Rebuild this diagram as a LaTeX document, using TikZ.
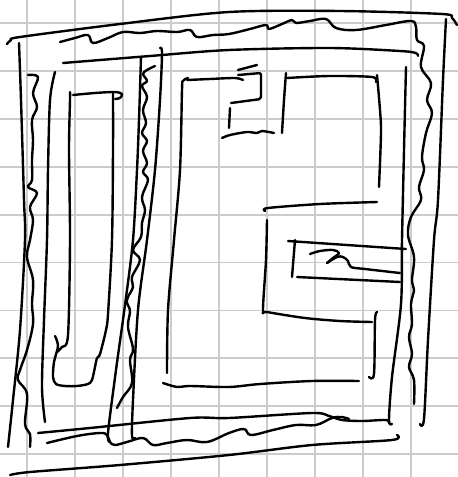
\documentclass[tikz,border=0pt]{standalone}
\begin{document}
\begin{tikzpicture}[x=1pt,y=-1pt,
  pen/.style={line width=2.4pt, line cap=round, line join=round, black},
  gridline/.style={line width=1.8pt, color=black!20}]
\fill[white] (0,0) rectangle (458,477);
\useasboundingbox (0,0) rectangle (458,477);
% grid
\foreach \k in {0,...,8} {\draw[gridline] ({27+48*\k},0) -- ({27+48*\k},477);}
\foreach \k in {0,...,9} {\draw[gridline] (0,{23+47.9*\k}) -- (458,{23+47.9*\k});}
% outer top
\draw[pen] plot[smooth,tension=0.5] coordinates {(7,44) (11,40) (20,37) (120,24) (229,12) (340,11) (442,14) (452,18) (457,25)};
% outer right
\draw[pen] plot[smooth,tension=0.5] coordinates {(446,19) (443,80) (438,200) (434,240) (428,340) (424,419) (420,424)};
% outer left
\draw[pen] plot[smooth,tension=0.5] coordinates {(19,43) (21,100) (24,200) (25,240) (20,330) (13,400) (8,447)};
% outer bottom
\draw[pen] plot[smooth,tension=0.5] coordinates {(10,475) (30,472) (120,465) (229,455) (312,445) (392,440) (397,435)};
% wavy top + wavy right
\draw[pen] plot[smooth,tension=0.6] coordinates {(60,42) (75,38) (88,35) (93,43) (108,38) (123,32) (140,33) (157,31) (177,32) (190,30) (197,37) (213,35) (229,34) (250,29) (266,25) (269,29) (282,24) (292,20) (296,23) (310,21) (326,19) (336,28) (356,30) (386,25) (411,21) (416,27) (417,40) (424,46) (421,67) (431,83) (427,100) (432,113) (426,133) (422,157) (424,170) (419,187) (421,200) (411,217) (408,235) (414,257) (412,280) (414,290) (411,304) (412,324) (409,337) (412,354) (409,367) (414,380) (414,404)};
% third top straight
\draw[pen] plot[smooth,tension=0.5] coordinates {(63,63) (150,56) (229,50) (330,48) (400,51) (416,53) (418,56)};
% right inner straight
\draw[pen] plot[smooth,tension=0.5] coordinates {(406,67) (404,150) (402,240) (401,304) (392,377) (389,420) (392,424)};
% left wavy
\draw[pen] plot[smooth,tension=0.6] coordinates {(28,75) (38,77) (33,93) (37,107) (32,120) (33,140) (32,160) (32,180) (28,187) (37,193) (30,207) (33,220) (30,240) (27,257) (33,280) (32,304) (33,324) (27,350) (20,370) (18,380) (27,394) (25,424) (30,434) (30,447)};
% left inner straight
\draw[pen] plot[smooth,tension=0.5] coordinates {(55,72) (50,100) (48,170) (47,240) (44,320) (42,387) (45,422)};
% inner tall box
\draw[pen] plot[smooth,tension=0.5] coordinates {(70,92) (70,100) (69,150) (70,240) (68,335) (62,347) (57,352)};
\draw[pen] plot[smooth,tension=0.5] coordinates {(55,336) (58,346) (54,362) (53,377) (56,384) (65,386) (77,386) (88,384) (92,380) (95,367) (97,358) (100,354) (106,330) (108,314) (112,240) (113,150) (113,93)};
\draw[pen] plot[smooth,tension=0.5] coordinates {(73,95) (95,93) (115,92) (122,94) (120,98) (115,99)};
% line A
\draw[pen] plot[smooth,tension=0.5] coordinates {(141,57) (139,120) (137,170) (133,240) (125,305) (116,370) (108,433) (110,442)};
% wavy B
\draw[pen] plot[smooth,tension=0.6] coordinates {(155,66) (147,70) (143,74) (147,81) (142,86) (147,97) (143,110) (146,123) (142,133) (147,141) (143,151) (147,163) (143,172) (148,180) (142,197) (145,210) (142,223) (141,237) (133,250) (140,260) (132,277) (133,287) (128,297) (127,303) (130,311) (128,327) (133,349) (130,360) (132,383) (123,397) (117,408)};
% line C
\draw[pen] plot[smooth,tension=0.5] coordinates {(160,48) (162,53) (160,100) (155,170) (147,240) (138,310) (133,400) (132,436) (135,438)};
% content left line D
\draw[pen] plot[smooth,tension=0.5] coordinates {(188,78) (183,81) (182,90) (180,170) (174,240) (168,310) (167,373)};
% content top edge
\draw[pen] plot[smooth,tension=0.5] coordinates {(187,80) (210,79) (235,78) (243,80)};
% short diagonal
\draw[pen] (238,70) -- (257,65);
% small box
\draw[pen,rounded corners=2pt] (238,75) -- (261,73) -- (261,99) -- (231,103);
\draw[pen] (230,108) -- (229,128);
\draw[pen] plot[smooth,tension=0.5] coordinates {(222,138) (230,135) (247,132) (257,133) (262,131) (274,133)};
% right top box
\draw[pen] plot[smooth,tension=0.5] coordinates {(286,73) (284,100) (282,133)};
\draw[pen] plot[smooth,tension=0.5] coordinates {(287,78) (329,76) (372,77) (376,82)};
\draw[pen] plot[smooth,tension=0.5] coordinates {(377,75) (380,110) (381,133) (379,187)};
% middle box
\draw[pen] plot[smooth,tension=0.5] coordinates {(265,211) (268,208) (320,204) (377,202)};
\draw[pen] plot[smooth,tension=0.5] coordinates {(267,220) (266,260) (263,310) (267,312) (305,318) (340,321) (372,322)};
\draw[pen] plot[smooth,tension=0.5] coordinates {(377,312) (375,320) (374,374) (369,377)};
% inner small box
\draw[pen] (288,241) -- (406,249);
\draw[pen] (295,240) -- (292,277);
\draw[pen] (297,277) -- (400,282);
\draw[pen] plot[smooth,tension=0.6] coordinates {(310,254) (320,251) (333,250) (339,253) (333,258) (327,263)};
\draw[pen] plot[smooth,tension=0.6] coordinates {(327,263) (337,257) (343,257) (348,261) (351,267) (365,269) (400,273)};
% content bottom
\draw[pen] plot[smooth,tension=0.5] coordinates {(163,383) (177,387) (190,386) (229,387) (260,384) (312,381) (359,381)};
% second bottom straight
\draw[pen] plot[smooth,tension=0.5] coordinates {(38,433) (90,428) (190,418) (229,418) (312,413) (329,416) (342,420) (362,421) (386,420) (389,423)};
% bottom wavy
\draw[pen] plot[smooth,tension=0.6] coordinates {(47,443) (77,436) (100,433) (107,435) (110,442) (115,445) (127,442) (143,438) (153,445) (167,443) (187,440) (207,442) (229,433) (244,429) (251,435) (273,430) (296,425) (316,425) (332,418) (342,417) (349,419)};
\end{tikzpicture}
\end{document}
